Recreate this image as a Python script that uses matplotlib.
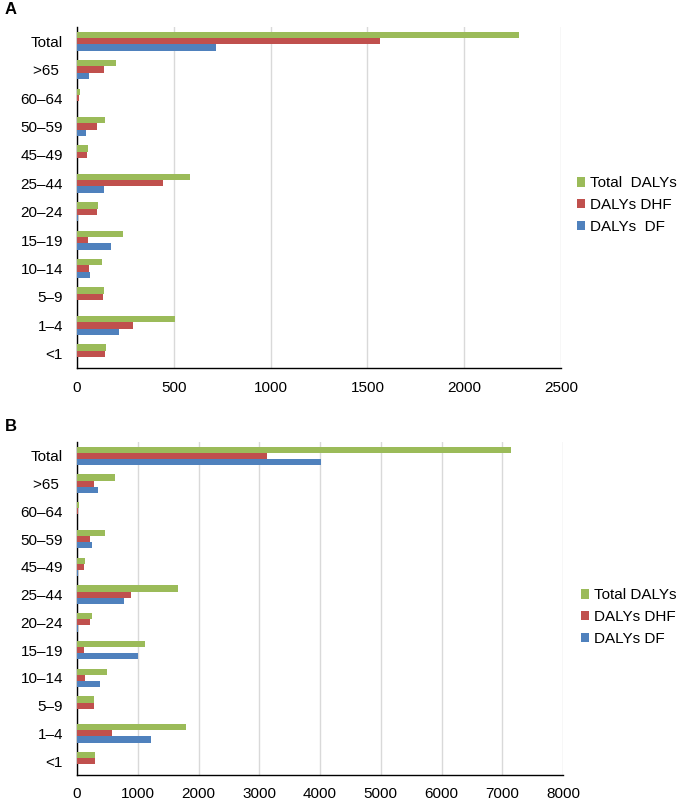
import matplotlib
matplotlib.use("Agg")
import matplotlib.pyplot as plt
import numpy as np

plt.rcParams['font.family'] = ['Liberation Sans', 'DejaVu Sans']

categories = ["Total", ">65 ", "60–64", "50–59", "45–49", "25–44", "20–24",
              "15–19", "10–14", "5–9", "1–4", "<1"]

# Panel A
a_total = [2285, 202, 14, 146, 57, 583, 110, 236, 129, 138, 507, 148]
a_dhf = [1567, 140, 12, 102, 53, 446, 105, 57, 62, 134, 290, 146]
a_df = [719, 60, 0, 45, 2, 138, 4, 177, 67, 0, 217, 0]
a_labels = ["Total  DALYs", "DALYs DHF", "DALYs  DF"]
a_ticks = [0, 500, 1000, 1500, 2000, 2500]

# Panel B
b_total = [7142, 629, 30, 458, 128, 1661, 239, 1112, 502, 283, 1799, 300]
b_dhf = [3122, 283, 15, 206, 112, 893, 211, 112, 124, 272, 580, 295]
b_df = [4023, 343, 0, 250, 10, 766, 20, 997, 376, 5, 1222, 0]
b_labels = ["Total DALYs", "DALYs DHF", "DALYs DF"]
b_ticks = [0, 1000, 2000, 3000, 4000, 5000, 6000, 7000, 8000]

colors = ["#9BBB59", "#C0504D", "#4F81BD"]

W, H = 678, 800
fig = plt.figure(figsize=(W / 100, H / 100), dpi=100)
FS = 11


def panel(rect, total, dhf, df, labels, ticks, legend_pos, letter, letter_y):
    ax = fig.add_axes(rect)
    n = len(categories)
    y = np.arange(n)[::-1].astype(float)
    h = 0.222
    for i, (vals, c, lab) in enumerate(zip([total, dhf, df], colors, labels)):
        ax.barh(y + (1 - i) * h, vals, height=h, color=c, label=lab, zorder=3)
    ax.set_yticks(y)
    ax.set_yticklabels(categories, fontsize=FS)
    ax.set_ylim(-0.5, n - 0.5)
    ax.set_xlim(ticks[0], ticks[-1])
    ax.set_xticks(ticks)
    ax.set_xticklabels([str(t) for t in ticks], fontsize=FS)
    ax.tick_params(axis='y', length=0, pad=10)
    ax.tick_params(axis='x', length=0, pad=9)
    ax.grid(axis='x', color='#D9D9D9', linewidth=1, zorder=0)
    ax.set_axisbelow(True)
    for s in ['top', 'right']:
        ax.spines[s].set_visible(False)
    ax.spines['left'].set_color('black')
    ax.spines['bottom'].set_color('black')
    ax.spines['left'].set_linewidth(1.0)
    ax.spines['bottom'].set_linewidth(1.0)
    ax.legend(loc='center left', bbox_to_anchor=legend_pos,
              bbox_transform=fig.transFigure, frameon=False,
              fontsize=FS, handlelength=0.55, handleheight=0.55,
              handletextpad=0.3, labelspacing=0.5, borderaxespad=0,
              borderpad=0)
    fig.text(5 / W, 1 - letter_y / H, letter, fontsize=12, fontweight='bold',
             va='center', ha='left')
    return ax


panel([77 / W, 1 - 368 / H, (561 - 77) / W, (368 - 27) / H],
      a_total, a_dhf, a_df, a_labels, a_ticks, (577 / W, 1 - 205 / H), "A", 9)
panel([77 / W, 1 - 775 / H, (563 - 77) / W, (775 - 442) / H],
      b_total, b_dhf, b_df, b_labels, b_ticks, (581 / W, 1 - 617 / H), "B", 427)

fig.savefig("out.png", dpi=100)
